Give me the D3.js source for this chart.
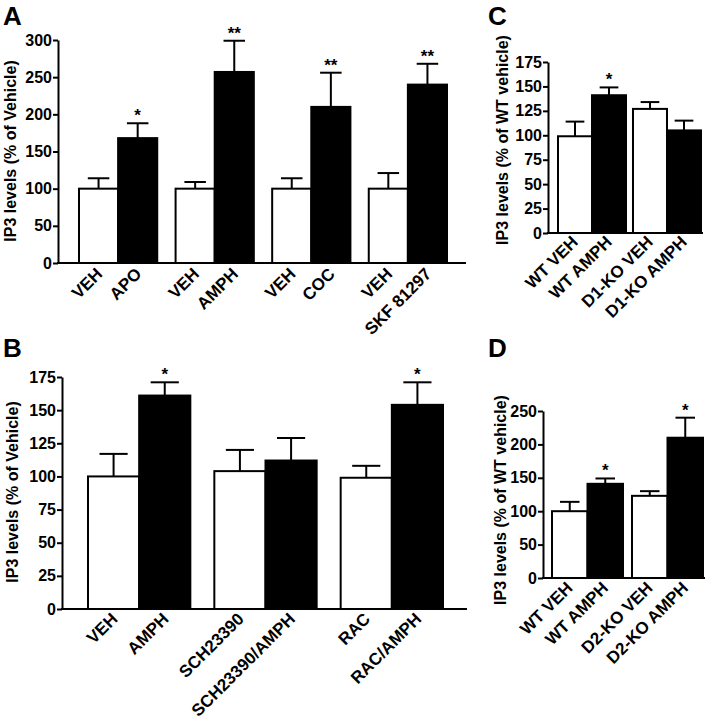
<!DOCTYPE html>
<html>
<head>
<meta charset="utf-8">
<script src="https://cdn.jsdelivr.net/npm/d3@7"></script>
<style>
  html, body { margin: 0; padding: 0; background: #fff; }
  svg { display: block; }
  text { font-family: "Liberation Sans", Arial, Helvetica, sans-serif; font-weight: bold; fill: #000; }
</style>
</head>
<body>
<svg id="chart" width="714" height="720"></svg>
<script>
// ---------- DATA ----------
const labelsA = ["VEH", "APO", "VEH", "AMPH", "VEH", "COC", "VEH", "SKF 81297"];
const meansA  = [100, 168, 100, 257, 100, 210, 100, 240];
const semA    = [14, 20, 9, 42, 14, 46, 21, 28];
const starsA  = ["", "*", "", "**", "", "**", "", "**"];
const ticksA  = [0, 50, 100, 150, 200, 250, 300];

const labelsB = ["VEH", "AMPH", "SCH23390", "SCH23390/AMPH", "RAC", "RAC/AMPH"];
const meansB  = [100, 161, 104, 112, 99, 154];
const semB    = [17, 10, 16, 17, 9, 17];
const starsB  = ["", "*", "", "", "", "*"];
const ticksB  = [0, 25, 50, 75, 100, 125, 150, 175];

const labelsC = ["WT VEH", "WT AMPH", "D1-KO VEH", "D1-KO AMPH"];
const meansC  = [99, 141, 127, 105];
const semC    = [15, 8, 7, 10];
const starsC  = ["", "*", "", ""];
const ticksC  = [0, 25, 50, 75, 100, 125, 150, 175];

const labelsD = ["WT VEH", "WT AMPH", "D2-KO VEH", "D2-KO AMPH"];
const meansD  = [100, 141, 123, 210];
const semD    = [14, 8, 7, 30];
const starsD  = ["", "*", "", "*"];
const ticksD  = [0, 50, 100, 150, 200, 250];

// ---------- DRAWING ----------
const svg = d3.select("#chart");

function panel(cfg) {
  const g = svg.append("g");
  const n = cfg.labels.length;
  const groups = d3.range(n / 2);
  const y = d3.scaleLinear().domain([0, cfg.ymax]).range([cfg.y0, cfg.ytop]);
  const gx = d3.scaleBand().domain(groups).range(cfg.barRange)
    .paddingInner(cfg.padInner).paddingOuter(0);
  const sx = d3.scaleBand().domain([0, 1]).range([0, gx.bandwidth()]).padding(0);
  const bw = sx.bandwidth();
  const bx = i => gx(Math.floor(i / 2)) + sx(i % 2);
  const idx = d3.range(n);

  // bars
  g.selectAll("rect.bar").data(idx).join("rect")
    .attr("x", i => bx(i))
    .attr("y", i => y(cfg.means[i]))
    .attr("width", bw)
    .attr("height", i => y(0) - y(cfg.means[i]))
    .attr("fill", i => (i % 2 === 0 ? "#fff" : "#000"))
    .attr("stroke", "#000")
    .attr("stroke-width", 2);

  // error bars (upper only)
  const capW = bw * 0.55;
  g.selectAll("line.err").data(idx).join("line")
    .attr("x1", i => bx(i) + bw / 2).attr("x2", i => bx(i) + bw / 2)
    .attr("y1", i => y(cfg.means[i]))
    .attr("y2", i => y(cfg.means[i] + cfg.sem[i]))
    .attr("stroke", "#000").attr("stroke-width", 2);
  g.selectAll("line.cap").data(idx).join("line")
    .attr("x1", i => bx(i) + bw / 2 - capW / 2).attr("x2", i => bx(i) + bw / 2 + capW / 2)
    .attr("y1", i => y(cfg.means[i] + cfg.sem[i]))
    .attr("y2", i => y(cfg.means[i] + cfg.sem[i]))
    .attr("stroke", "#000").attr("stroke-width", 2);

  // significance stars
  g.selectAll("text.star").data(idx.filter(i => cfg.stars[i])).join("text")
    .attr("x", i => bx(i) + bw / 2)
    .attr("y", i => y(cfg.means[i] + cfg.sem[i]) - 2)
    .attr("text-anchor", "middle")
    .style("font-size", "17px")
    .text(i => cfg.stars[i]);

  // y axis
  const ax = g.append("g")
    .attr("transform", `translate(${cfg.axisX},0)`)
    .call(d3.axisLeft(y).tickValues(cfg.ticks).tickFormat(d3.format("d"))
      .tickSize(5).tickSizeOuter(0).tickPadding(1));
  ax.select(".domain").attr("stroke", "#000").attr("stroke-width", 2);
  ax.selectAll(".tick line").attr("stroke", "#000").attr("stroke-width", 2);
  ax.selectAll(".tick text")
    .style("font-size", "16px")
    .style("font-family", "'Liberation Sans', Arial, sans-serif")
    .style("font-weight", "bold")
    .attr("fill", "#000");

  // x axis baseline
  g.append("line")
    .attr("x1", cfg.axisX - 1).attr("x2", cfg.axisEnd)
    .attr("y1", y(0)).attr("y2", y(0))
    .attr("stroke", "#000").attr("stroke-width", 2);

  // category labels
  g.selectAll("text.cat").data(idx).join("text")
    .attr("transform", i => `translate(${bx(i) + bw / 2 + cfg.labDx},${y(0) + cfg.labDy}) rotate(-45)`)
    .attr("text-anchor", "end")
    .style("font-size", "17px")
    .text(i => cfg.labels[i]);

  // y label
  g.append("text")
    .attr("transform", `translate(${cfg.ylabX},${cfg.ylabY}) rotate(-90)`)
    .attr("text-anchor", "middle")
    .style("font-size", "16px")
    .text(cfg.ylabel);

  // panel letter
  g.append("text")
    .attr("x", cfg.letterX).attr("y", cfg.letterY)
    .style("font-size", "26px")
    .text(cfg.letter);
}

panel({
  labels: labelsA, means: meansA, sem: semA, stars: starsA, ticks: ticksA,
  ymax: 300, y0: 263, ytop: 40, axisX: 58, axisEnd: 466,
  barRange: [79, 447], padInner: 0.19, labDx: 5, labDy: 12,
  ylabel: "IP3 levels (% of Vehicle)", ylabX: 16, ylabY: 151,
  letter: "A", letterX: 3, letterY: 25
});

panel({
  labels: labelsB, means: meansB, sem: semB, stars: starsB, ticks: ticksB,
  ymax: 175, y0: 609, ytop: 377, axisX: 62, axisEnd: 467,
  barRange: [88, 443], padInner: 0.19, labDx: 5, labDy: 11,
  ylabel: "IP3 levels (% of Vehicle)", ylabX: 18, ylabY: 492,
  letter: "B", letterX: 3, letterY: 357
});

panel({
  labels: labelsC, means: meansC, sem: semC, stars: starsC, ticks: ticksC,
  ymax: 175, y0: 233, ytop: 62, axisX: 548, axisEnd: 703,
  barRange: [558, 701], padInner: 0.093, labDx: 4, labDy: 10,
  ylabel: "IP3 levels (% of WT vehicle)", ylabX: 508, ylabY: 140,
  letter: "C", letterX: 488, letterY: 25
});

panel({
  labels: labelsD, means: meansD, sem: semD, stars: starsD, ticks: ticksD,
  ymax: 250, y0: 578, ytop: 411, axisX: 543, axisEnd: 705,
  barRange: [552, 703], padInner: 0.1125, labDx: 4, labDy: 11,
  ylabel: "IP3 levels (% of WT vehicle)", ylabX: 506, ylabY: 500,
  letter: "D", letterX: 488, letterY: 357
});
</script>
</body>
</html>
